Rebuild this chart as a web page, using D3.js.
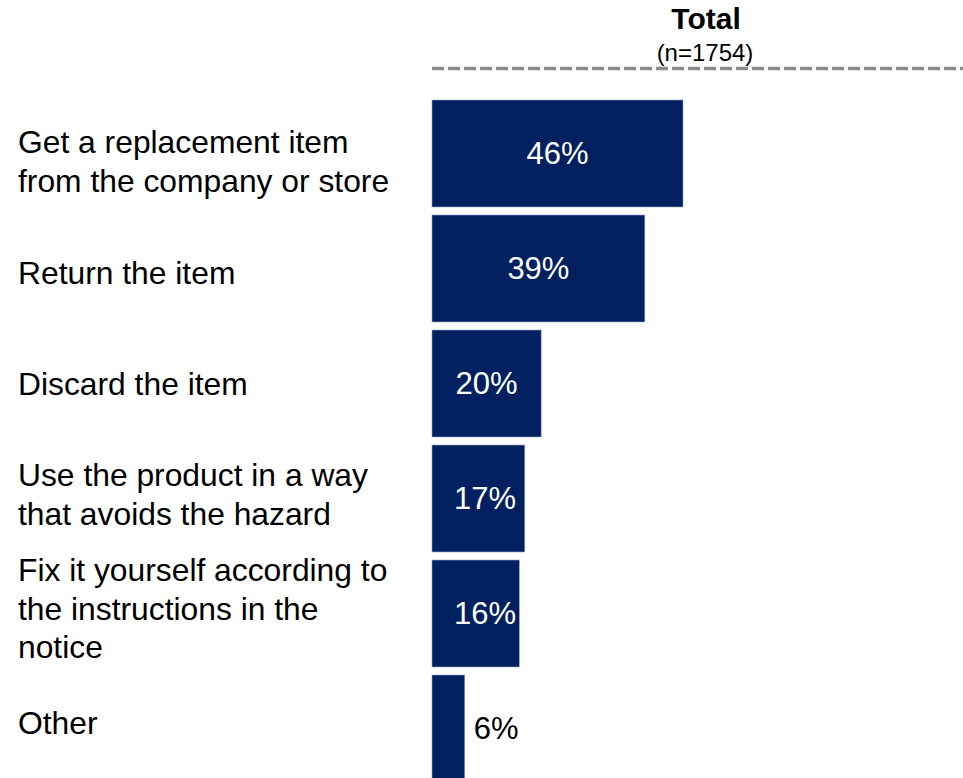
<!DOCTYPE html>
<html>
<head>
<meta charset="utf-8">
<script src="https://cdn.jsdelivr.net/npm/d3@7"></script>
<style>
  html, body { margin: 0; padding: 0; background: #ffffff; }
  svg { display: block; font-family: "Liberation Sans", Arial, Helvetica, sans-serif; }
</style>
</head>
<body>
<svg id="chart" width="963" height="778"></svg>
<script>
// ---- data ----
const categories = [
  "Get a replacement item from the company or store",
  "Return the item",
  "Discard the item",
  "Use the product in a way that avoids the hazard",
  "Fix it yourself according to the instructions in the notice",
  "Other"
];
const categoryLines = [
  ["Get a replacement item", "from the company or store"],
  ["Return the item"],
  ["Discard the item"],
  ["Use the product in a way", "that avoids the hazard"],
  ["Fix it yourself according to", "the instructions in the", "notice"],
  ["Other"]
];
const values = [46, 39, 20, 17, 16, 6];
const seriesTitle = "Total";
const seriesSubtitle = "(n=1754)";

// ---- layout (not data) ----
const W = 963, H = 778;
const labelNudge = [8, 4, 0, -4, -5, -6];
const svg = d3.select("#chart");

const x = d3.scaleLinear().domain([0, 100]).range([432, 432 + 545.65]);
const y = d3.scaleBand().domain(categories).range([96, 786])
  .paddingInner(0.07).paddingOuter(0.035);

// header
svg.append("text")
  .attr("x", 706).attr("y", 28.5)
  .attr("text-anchor", "middle")
  .attr("font-size", 30).attr("font-weight", "bold").attr("fill", "#000")
  .text(seriesTitle);
svg.append("text")
  .attr("x", 705).attr("y", 61)
  .attr("text-anchor", "middle")
  .attr("font-size", 24).attr("fill", "#000")
  .text(seriesSubtitle);
svg.append("line")
  .attr("x1", 432).attr("x2", W).attr("y1", 68.5).attr("y2", 68.5)
  .attr("stroke", "#8c8c8c").attr("stroke-width", 3.5)
  .attr("stroke-dasharray", "12,4");

// bars
svg.selectAll("rect.bar").data(values).join("rect")
  .attr("class", "bar")
  .attr("x", x(0))
  .attr("y", (d, i) => y(categories[i]))
  .attr("width", d => x(d) - x(0))
  .attr("height", y.bandwidth())
  .attr("fill", "#002060")
  .attr("stroke", "#8a9bc0").attr("stroke-width", 0.6);

// value labels
svg.selectAll("text.val").data(values).join("text")
  .attr("class", "val")
  .attr("x", d => (x(d) - x(0)) > 60 ? Math.max((x(0) + x(d)) / 2, x(0) + 53) : x(d) + 9)
  .attr("y", (d, i) => y(categories[i]) + y.bandwidth() / 2)
  .attr("dy", "0.35em")
  .attr("text-anchor", d => (x(d) - x(0)) > 60 ? "middle" : "start")
  .attr("font-size", 31)
  .attr("fill", d => (x(d) - x(0)) > 60 ? "#ffffff" : "#000000")
  .text(d => d + "%");

// category labels
const lh = 38.5;
categories.forEach((c, i) => {
  const lines = categoryLines[i];
  const cy = y(c) + y.bandwidth() / 2 + labelNudge[i];
  const t = svg.append("text")
    .attr("x", 18)
    .attr("font-size", 31.8).attr("fill", "#000");
  lines.forEach((ln, j) => {
    t.append("tspan")
      .attr("x", 18)
      .attr("y", cy - (lines.length - 1) / 2 * lh + j * lh)
      .attr("dy", "0.35em")
      .text(ln);
  });
});
</script>
</body>
</html>
